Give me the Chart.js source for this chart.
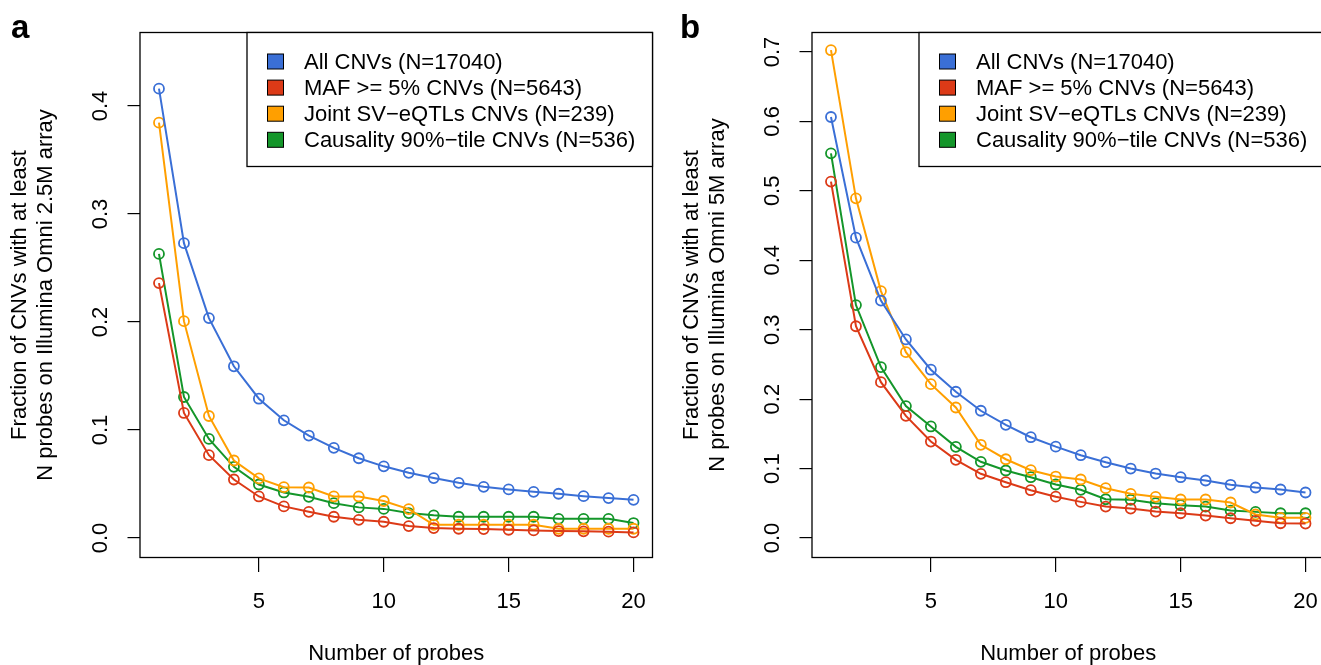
<!DOCTYPE html>
<html>
<head>
<meta charset="utf-8">
<script src="https://cdn.jsdelivr.net/npm/chart.js@4/dist/chart.umd.min.js"></script>
<style>
  html, body { margin: 0; padding: 0; background: #fff; overflow: hidden; }
  canvas { position: absolute; top: 0; }
  #panelA { left: 0; }
  #panelB { left: 672px; }
</style>
</head>
<body>
<canvas id="panelA" width="660" height="665"></canvas>
<canvas id="panelB" width="660" height="665"></canvas>
<script>
const probes = [1, 2, 3, 4, 5, 6, 7, 8, 9, 10, 11, 12, 13, 14, 15, 16, 17, 18, 19, 20];
const seriesNames = ['All CNVs (N=17040)', 'MAF >= 5% CNVs (N=5643)', 'Joint SV\u2212eQTLs CNVs (N=239)', 'Causality 90%\u2212tile CNVs (N=536)'];
const seriesColors = ['#3a6fd6', '#dc3a17', '#ff9f00', '#14962a'];
const xTicks = [5, 10, 15, 20];

// panel a: Illumina Omni 2.5M
const allA = [0.416, 0.273, 0.2036, 0.159, 0.129, 0.109, 0.0949, 0.0835, 0.0739, 0.0664, 0.0604, 0.0555, 0.0511, 0.0474, 0.045, 0.0428, 0.041, 0.0388, 0.037, 0.0354];
const mafA = [0.236, 0.1158, 0.0767, 0.0542, 0.0385, 0.0293, 0.0243, 0.0197, 0.0169, 0.0151, 0.0111, 0.0092, 0.0086, 0.0083, 0.0077, 0.0071, 0.0065, 0.0062, 0.0059, 0.0052];
const jointA = [0.3845, 0.2008, 0.113, 0.0718, 0.0552, 0.0471, 0.0468, 0.0385, 0.0385, 0.0343, 0.0268, 0.0123, 0.0123, 0.0123, 0.0123, 0.0123, 0.0086, 0.0086, 0.0086, 0.0086];
const causA = [0.263, 0.1306, 0.0918, 0.0659, 0.0496, 0.0422, 0.0382, 0.0323, 0.0284, 0.027, 0.0231, 0.021, 0.0197, 0.0197, 0.0197, 0.0197, 0.0178, 0.0178, 0.0178, 0.0139];
const yTicksA = [0, 0.1, 0.2, 0.3, 0.4];

// panel b: Illumina Omni 5M
const allB = [0.6063, 0.4326, 0.342, 0.286, 0.2424, 0.2107, 0.1833, 0.1631, 0.1452, 0.1316, 0.1193, 0.1092, 0.1001, 0.0929, 0.0876, 0.0829, 0.0767, 0.0728, 0.0699, 0.0656];
const mafB = [0.5133, 0.305, 0.2245, 0.176, 0.139, 0.1127, 0.0925, 0.0804, 0.0689, 0.0596, 0.0521, 0.0454, 0.0425, 0.0382, 0.0357, 0.0324, 0.0285, 0.0248, 0.0213, 0.0209];
const jointB = [0.7025, 0.4892, 0.3556, 0.2677, 0.2216, 0.188, 0.1343, 0.1135, 0.0977, 0.0886, 0.0843, 0.0718, 0.0637, 0.0594, 0.0555, 0.0555, 0.0512, 0.0339, 0.0291, 0.0291];
const causB = [0.554, 0.3355, 0.2461, 0.19, 0.1607, 0.1314, 0.1098, 0.0973, 0.0876, 0.0771, 0.0695, 0.0559, 0.055, 0.0502, 0.0473, 0.0454, 0.0396, 0.0377, 0.0357, 0.0357];
const yTicksB = [0, 0.1, 0.2, 0.3, 0.4, 0.5, 0.6, 0.7];

const font = '"Liberation Sans", Arial, Helvetica, sans-serif';
const textSize = 22;

// R-style extras: box, rotated y tick labels, framed legend, panel letter
const rStyle = {
  id: 'rStyle',
  afterDraw(chart, args, opts) {
    const { ctx, chartArea: area } = chart;
    const yScale = chart.scales.y;
    ctx.save();

    ctx.strokeStyle = '#000';
    ctx.lineWidth = 1.3;
    ctx.strokeRect(area.left, area.top, area.right - area.left, area.bottom - area.top);

    ctx.fillStyle = '#000';
    ctx.font = `${textSize}px ${font}`;
    ctx.textAlign = 'center';
    ctx.textBaseline = 'middle';
    yScale.ticks.forEach((tick) => {
      ctx.save();
      ctx.translate(101, yScale.getPixelForValue(tick.value));
      ctx.rotate(-Math.PI / 2);
      ctx.fillText(tick.value.toFixed(1), 0, 0);
      ctx.restore();
    });

    const boxLeft = area.left + 107;
    ctx.fillStyle = '#fff';
    ctx.fillRect(boxLeft, area.top, area.right - boxLeft, 134);
    ctx.strokeRect(boxLeft, area.top, area.right - boxLeft, 134);
    ctx.textAlign = 'left';
    chart.data.datasets.forEach((ds, i) => {
      const rowY = area.top + 29 + i * 26.1;
      ctx.fillStyle = ds.borderColor;
      ctx.fillRect(boxLeft + 20.5, rowY - 7.5, 16, 15);
      ctx.lineWidth = 1;
      ctx.strokeRect(boxLeft + 20.5, rowY - 7.5, 16, 15);
      ctx.fillStyle = '#000';
      ctx.fillText(ds.label, boxLeft + 57, rowY + 1);
    });

    ctx.font = `bold 33px ${font}`;
    ctx.textBaseline = 'alphabetic';
    ctx.fillText(opts.letter, opts.letterX, 38);
    ctx.restore();
  },
};

function makePanel(id, series, yMin, yMax, yTicks, yTitle, letter, letterX) {
  new Chart(document.getElementById(id), {
    type: 'line',
    data: {
      datasets: series.map((values, i) => ({
        label: seriesNames[i],
        data: probes.map((p, j) => ({ x: p, y: values[j] })),
        borderColor: seriesColors[i],
        backgroundColor: seriesColors[i],
        borderWidth: 2,
        pointRadius: 5,
        pointBorderWidth: 1.8,
        pointBackgroundColor: 'rgba(255,255,255,0)',
        tension: 0,
      })),
    },
    options: {
      responsive: false,
      animation: false,
      devicePixelRatio: 1,
      layout: { padding: { top: 32.5, right: 7.5, left: 0, bottom: 0 } },
      plugins: {
        legend: { display: false },
        tooltip: { enabled: false },
        rStyle: { letter, letterX },
      },
      scales: {
        x: {
          type: 'linear',
          min: 0.24,
          max: 20.76,
          afterBuildTicks: (scale) => { scale.ticks = xTicks.map((v) => ({ value: v })); },
          afterFit: (scale) => {
            scale.height = 107.5;
            scale.paddingLeft = 0;
            scale.paddingRight = 0;
          },
          grid: { display: true, drawOnChartArea: false, drawTicks: true, tickLength: 14.5, color: '#000', lineWidth: 1.2 },
          border: { display: false },
          ticks: { color: '#000', font: { family: font, size: textSize }, padding: 16.5, maxRotation: 0, autoSkip: false },
          title: { display: true, text: 'Number of probes', color: '#000', font: { family: font, size: textSize, lineHeight: 1 }, padding: 0 },
        },
        y: {
          type: 'linear',
          min: yMin,
          max: yMax,
          afterBuildTicks: (scale) => { scale.ticks = yTicks.map((v) => ({ value: v })); },
          afterFit: (scale) => {
            scale.width = 140;
            scale.paddingTop = 0;
            scale.paddingBottom = 0;
          },
          grid: { display: true, drawOnChartArea: false, drawTicks: true, tickLength: 12.5, color: '#000', lineWidth: 1.2 },
          border: { display: false },
          ticks: { display: false },
          title: { display: true, text: yTitle, color: '#000', font: { family: font, size: textSize, lineHeight: 1.16 }, padding: { top: 7.2, bottom: 0 } },
        },
      },
    },
    plugins: [rStyle],
  });
}

makePanel('panelA', [allA, mafA, jointA, causA], -0.018, 0.468, yTicksA,
  ['Fraction of CNVs with at least', 'N probes on Illumina Omni 2.5M array'], 'a', 11);
makePanel('panelB', [allB, mafB, jointB, causB], -0.028, 0.728, yTicksB,
  ['Fraction of CNVs with at least', 'N probes on Illumina Omni 5M array'], 'b', 8);
</script>
</body>
</html>
